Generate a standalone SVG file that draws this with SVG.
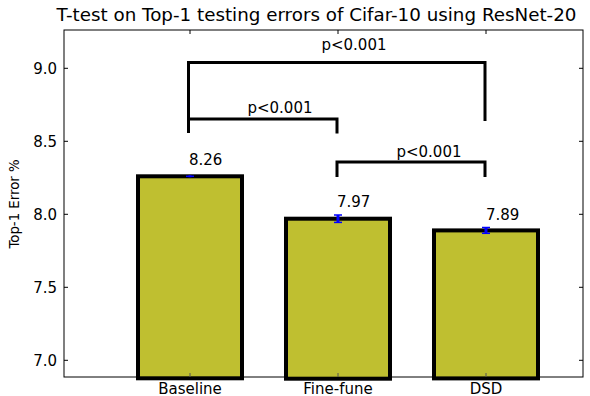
<svg xmlns="http://www.w3.org/2000/svg" width="590" height="396" viewBox="0 0 590 396">
<style>
text{font-family:"DejaVu Sans","Liberation Sans",sans-serif;fill:#000}
.t{font-size:15px}
.tick{font-size:15px}
.val{font-size:15px}
.bar{fill:#bfbf30;stroke:#000;stroke-width:4}
.br{fill:none;stroke:#000;stroke-width:3}
.eb{stroke:#0000ff;stroke-width:3;fill:none}
.cap{stroke:#0000ff;stroke-width:1.5}
.ax{stroke:#000;stroke-width:1}
</style>
<rect width="590" height="396" fill="#fff"/>
<text x="316.5" y="21" text-anchor="middle" font-size="18.3">T-test on Top-1 testing errors of Cifar-10 using ResNet-20</text>
<g id="axes">
<rect x="64" y="30" width="519" height="347" fill="none" stroke="#000" stroke-width="1"/>
<g class="ax">
<line x1="64" y1="68.3" x2="68" y2="68.3"/><line x1="64" y1="141.3" x2="68" y2="141.3"/><line x1="64" y1="214.3" x2="68" y2="214.3"/><line x1="64" y1="287.3" x2="68" y2="287.3"/><line x1="64" y1="360.3" x2="68" y2="360.3"/>
<line x1="583" y1="68.3" x2="579" y2="68.3"/><line x1="583" y1="141.3" x2="579" y2="141.3"/><line x1="583" y1="214.3" x2="579" y2="214.3"/><line x1="583" y1="287.3" x2="579" y2="287.3"/><line x1="583" y1="360.3" x2="579" y2="360.3"/>
<line x1="190" y1="30" x2="190" y2="34"/><line x1="338" y1="30" x2="338" y2="34"/><line x1="486" y1="30" x2="486" y2="34"/>
</g>
<g class="tick" text-anchor="end">
<text x="57" y="73.5">9.0</text><text x="57" y="146.5">8.5</text><text x="57" y="219.5">8.0</text><text x="57" y="292.5">7.5</text><text x="57" y="365.5">7.0</text>
</g>
<text font-size="13.3" transform="translate(19,204) rotate(-90)" text-anchor="middle">Top-1 Error %</text>
</g>
<g id="baseline">
<rect class="bar" x="138" y="176.3" width="104" height="202"/>
<line class="eb" x1="190" y1="175.3" x2="190" y2="177.3"/>
<line class="cap" x1="186" y1="176.3" x2="194" y2="176.3"/>
<text class="val" x="189" y="165">8.26</text>
<text class="tick" x="190" y="393.5" text-anchor="middle">Baseline</text>
</g>
<g id="finefune">
<rect class="bar" x="286" y="218.7" width="104" height="160"/>
<line class="eb" x1="338" y1="215" x2="338" y2="222.4"/>
<line class="cap" x1="334" y1="215" x2="342" y2="215"/><line class="cap" x1="334" y1="222.4" x2="342" y2="222.4"/>
<text class="val" x="337" y="207">7.97</text>
<text class="tick" x="338" y="393.5" text-anchor="middle">Fine-fune</text>
</g>
<g id="dsd">
<rect class="bar" x="434" y="230.4" width="104" height="148"/>
<line class="eb" x1="486" y1="227.5" x2="486" y2="233.3"/>
<line class="cap" x1="482" y1="227.5" x2="490" y2="227.5"/><line class="cap" x1="482" y1="233.3" x2="490" y2="233.3"/>
<text class="val" x="486" y="220">7.89</text>
<text class="tick" x="486" y="393.5" text-anchor="middle">DSD</text>
</g>
<g class="ax" id="bottom-ticks">
<line x1="190" y1="377" x2="190" y2="373" stroke="#555"/><line x1="338" y1="377" x2="338" y2="373" stroke="#555"/><line x1="486" y1="377" x2="486" y2="373" stroke="#555"/>
</g>
<g id="connectors">
<path class="br" d="M188.5,133 V62.5 H485 V121"/>
<path class="br" d="M188.5,119 H337 V133.5"/>
<path class="br" d="M337,177 V162 H485 V177"/>
</g>
<g id="labels" class="t" text-anchor="middle">
<text x="354" y="50">p&lt;0.001</text>
<text x="280" y="113">p&lt;0.001</text>
<text x="429" y="157">p&lt;0.001</text>
</g>
</svg>
